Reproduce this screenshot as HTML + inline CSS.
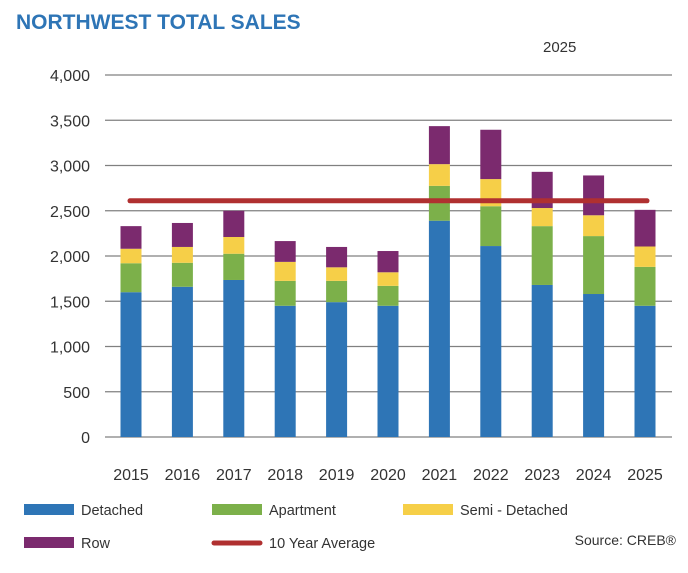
<!DOCTYPE html>
<html><head><meta charset="utf-8"><style>
body{margin:0;background:#fff;width:688px;height:568px;overflow:hidden;font-family:"Liberation Sans",sans-serif}
</style></head><body>
<svg id="c" width="688" height="568">
<text x="16" y="29" font-size="21" font-weight="bold" fill="#2e75b6">NORTHWEST TOTAL SALES</text>
<text x="543" y="52" font-size="15" fill="#333">2025</text>
<g id="grid"></g><g id="bars"></g><g id="avg"></g><g id="legend"></g>
<text x="676" y="545" font-size="14" fill="#333" text-anchor="end">Source: CREB®</text>
</svg>
<script>
const years=["2015","2016","2017","2018","2019","2020","2021","2022","2023","2024","2025"];
const detached=[1600,1660,1735,1450,1490,1450,2390,2110,1680,1580,1450];
const apartment=[320,265,290,275,235,220,385,440,650,640,430];
const semi=[160,175,185,210,150,150,240,300,200,230,225];
const row=[250,265,290,230,225,235,420,545,400,440,405];
const avgValue=2610;
const yTicks=[0,500,1000,1500,2000,2500,3000,3500,4000];
const ns="http://www.w3.org/2000/svg";
const y0=437,yTop=75,xL=105,xR=672;
const Y=v=>y0-(v/4000)*(y0-yTop);
const step=51.4,X=i=>131+i*step;
function mk(t,a,p){const e=document.createElementNS(ns,t);for(const k in a)e.setAttribute(k,a[k]);p.appendChild(e);return e;}
const g=document.getElementById('grid');
yTicks.forEach(t=>{
 const l=mk('line',{x1:xL,x2:xR,y1:Y(t),y2:Y(t),stroke:'#808080','stroke-width':1.2},g);
 
 
 const tx=mk('text',{x:90,y:Y(t)+6,'font-size':16,'text-anchor':'end',fill:'#333'},g);
 tx.textContent=t.toLocaleString('en-US');
 
 
});
const b=document.getElementById('bars');
const series=[[detached,'#2e75b6','detached'],[apartment,'#7cb04a','apartment'],[semi,'#f6cf48','semi-detached'],[row,'#7b2a6e','row']];
years.forEach((yr,i)=>{
 let base=0;
 series.forEach(([arr,col,nm])=>{
  const top=base+arr[i];
  const r=mk('rect',{x:X(i)-10.5,y:Y(top),width:21,height:Y(base)-Y(top),fill:col},b);
  
  
  base=top;
 });
 const t=mk('text',{x:X(i),y:480,'font-size':16,'text-anchor':'middle',fill:'#333'},b);
 t.textContent=yr;
 
 
});
const a=document.getElementById('avg');
const al=mk('line',{x1:X(0)-1,x2:X(10)+2,y1:Y(avgValue),y2:Y(avgValue),stroke:'#b03030','stroke-width':5,'stroke-linecap':'round'},a);


const lg=document.getElementById('legend');
const items=[['Detached','#2e75b6',24,510,'rect'],['Apartment','#7cb04a',212,510,'rect'],['Semi - Detached','#f6cf48',403,510,'rect'],['Row','#7b2a6e',24,543,'rect'],['10 Year Average','#b03030',212,543,'line']];
items.forEach(([lab,col,x,y,k])=>{
 const gg=mk('g',{},lg);
 
 
 if(k==='rect')mk('rect',{x:x,y:y-6,width:50,height:11,fill:col},gg);
 else mk('line',{x1:x+2,x2:x+48,y1:y,y2:y,stroke:col,'stroke-width':5,'stroke-linecap':'round'},gg);
 const t=mk('text',{x:x+57,y:y+5,'font-size':14.5,fill:'#333'},gg);t.textContent=lab;
});
</script>
</body></html>
